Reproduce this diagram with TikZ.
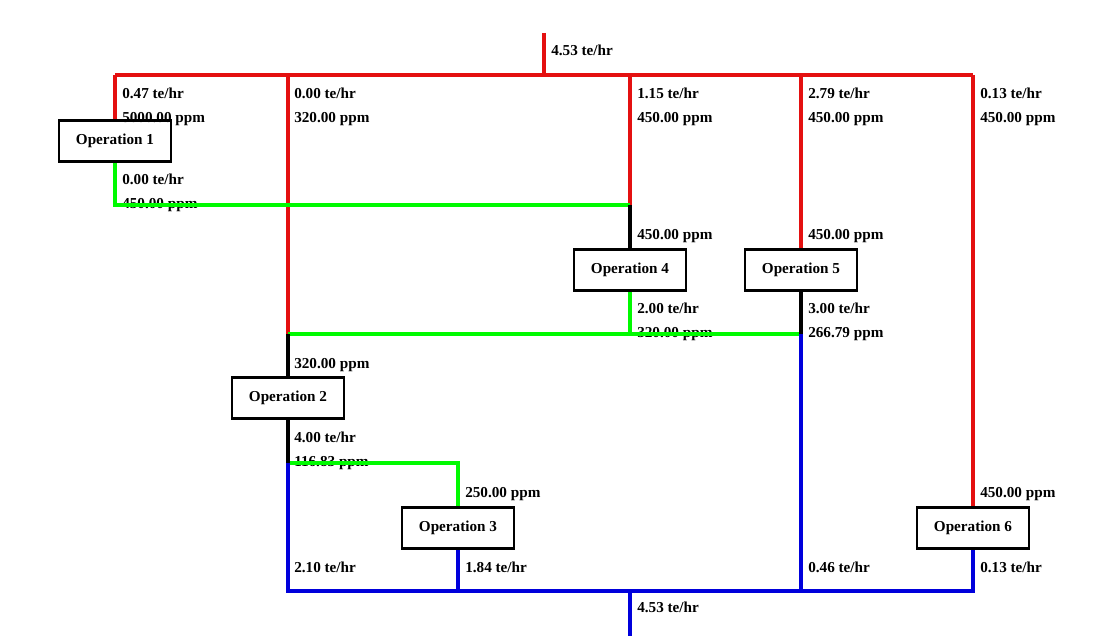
\documentclass[tikz,border=0pt]{standalone}
\usepackage{fontspec}
\setmainfont{Liberation Serif}
\usetikzlibrary{positioning}
\definecolor{lred}{RGB}{228,16,16}
\definecolor{lgreen}{RGB}{0,250,0}
\definecolor{lblue}{RGB}{0,0,220}

\begin{document}
\begin{tikzpicture}[
      x=0.75pt, y=-0.75pt,
      op/.style={draw,line width=2.2pt,minimum width=84pt,minimum height=31pt,font=\bfseries\fontsize{11.4}{13}\selectfont},
      lbl/.style={anchor=west,inner sep=0pt,font=\bfseries\fontsize{11.4}{13}\selectfont},
      fresh/.style={draw=lred,line width=2.3pt},
      reuse/.style={draw=lgreen,line width=2.3pt},
      feed/.style={draw=black,line width=2.3pt},
      waste/.style={draw=lblue,line width=2.3pt},
    ]
    \useasboundingbox (0,0) rectangle (1099,638);
    % operations
    \node[op] (op1) at (115,141) {Operation 1};
    \node[op] (op2) at (288,398) {Operation 2};
    \node[op] (op3) at (458,528) {Operation 3};
    \node[op] (op4) at (630,270) {Operation 4};
    \node[op] (op5) at (801,270) {Operation 5};
    \node[op] (op6) at (973,528) {Operation 6};
    % junctions
    \coordinate (fw) at (544,33);
    \coordinate (fwh) at (544,75);
    \coordinate (h1) at (115,75);
    \coordinate (h2) at (288,75);
    \coordinate (h4) at (630,75);
    \coordinate (h5) at (801,75);
    \coordinate (h6) at (973,75);
    \coordinate (r1) at (115,205);
    \coordinate (r4) at (630,205);
    \coordinate (m2) at (288,334);
    \coordinate (m4) at (630,334);
    \coordinate (m5) at (801,334);
    \coordinate (s2) at (288,463);
    \coordinate (s3) at (458,463);
    \coordinate (w2) at (288,591);
    \coordinate (w3) at (458,591);
    \coordinate (wo) at (630,591);
    \coordinate (w5) at (801,591);
    \coordinate (w6) at (973,591);
    \coordinate (ww) at (630,636);
    % labels
    \node[lbl] (fin) at (551,50) {4.53 te/hr};
    \node[lbl] (f1) at (122,93) {0.47 te/hr};
    \node[lbl] (c1) at (122,119) {5000.00 ppm};
    \node[lbl] (f2) at (294,93) {0.00 te/hr};
    \node[lbl] (c2) at (294,119) {320.00 ppm};
    \node[lbl] (f4) at (637,93) {1.15 te/hr};
    \node[lbl] (c4) at (637,119) {450.00 ppm};
    \node[lbl] (f5) at (808,93) {2.79 te/hr};
    \node[lbl] (c5) at (808,119) {450.00 ppm};
    \node[lbl] (f6) at (980,93) {0.13 te/hr};
    \node[lbl] (c6) at (980,119) {450.00 ppm};
    \node[lbl] (o1f) at (122,179) {0.00 te/hr};
    \node[lbl] (o1c) at (122,205) {450.00 ppm};
    \node[lbl] (i4c) at (637,236) {450.00 ppm};
    \node[lbl] (i5c) at (808,236) {450.00 ppm};
    \node[lbl] (o4f) at (637,308) {2.00 te/hr};
    \node[lbl] (o4c) at (637,334) {320.00 ppm};
    \node[lbl] (o5f) at (808,308) {3.00 te/hr};
    \node[lbl] (o5c) at (808,334) {266.79 ppm};
    \node[lbl] (i2c) at (294,365) {320.00 ppm};
    \node[lbl] (o2f) at (294,437) {4.00 te/hr};
    \node[lbl] (o2c) at (294,463) {116.83 ppm};
    \node[lbl] (i3c) at (465,494) {250.00 ppm};
    \node[lbl] (i6c) at (980,494) {450.00 ppm};
    \node[lbl] (w2f) at (294,567) {2.10 te/hr};
    \node[lbl] (w3f) at (465,567) {1.84 te/hr};
    \node[lbl] (w5f) at (808,567) {0.46 te/hr};
    \node[lbl] (w6f) at (980,567) {0.13 te/hr};
    \node[lbl] (wout) at (637,607) {4.53 te/hr};
    % fresh water
    \draw[fresh] (fw) -- (fwh);
    \draw[fresh] (h1) -- (h6);
    \draw[fresh] (h1) -- (op1.north);
    \draw[fresh] (h2) -- (m2);
    \draw[fresh] (h4) -- (r4);
    \draw[fresh] (h5) -- (op5.north);
    \draw[fresh] (h6) -- (op6.north);
    % reuse
    \draw[reuse] (op1.south) -- (r1) -- (r4);
    \draw[reuse] (op4.south) -- (m4);
    \draw[reuse] (m2) -- (m5);
    \draw[reuse] (s2) -- (s3) -- (op3.north);
    % mixed feeds
    \draw[feed] (r4) -- (op4.north);
    \draw[feed] (m2) -- (op2.north);
    \draw[feed] (op2.south) -- (s2);
    \draw[feed] (op5.south) -- (m5);
    % wastewater
    \draw[waste] (m5) -- (w5);
    \draw[waste] (s2) -- (w2) -- (w6) -- (op6.south);
    \draw[waste] (op3.south) -- (w3);
    \draw[waste] (wo) -- (ww);
  \end{tikzpicture}
\end{document}
